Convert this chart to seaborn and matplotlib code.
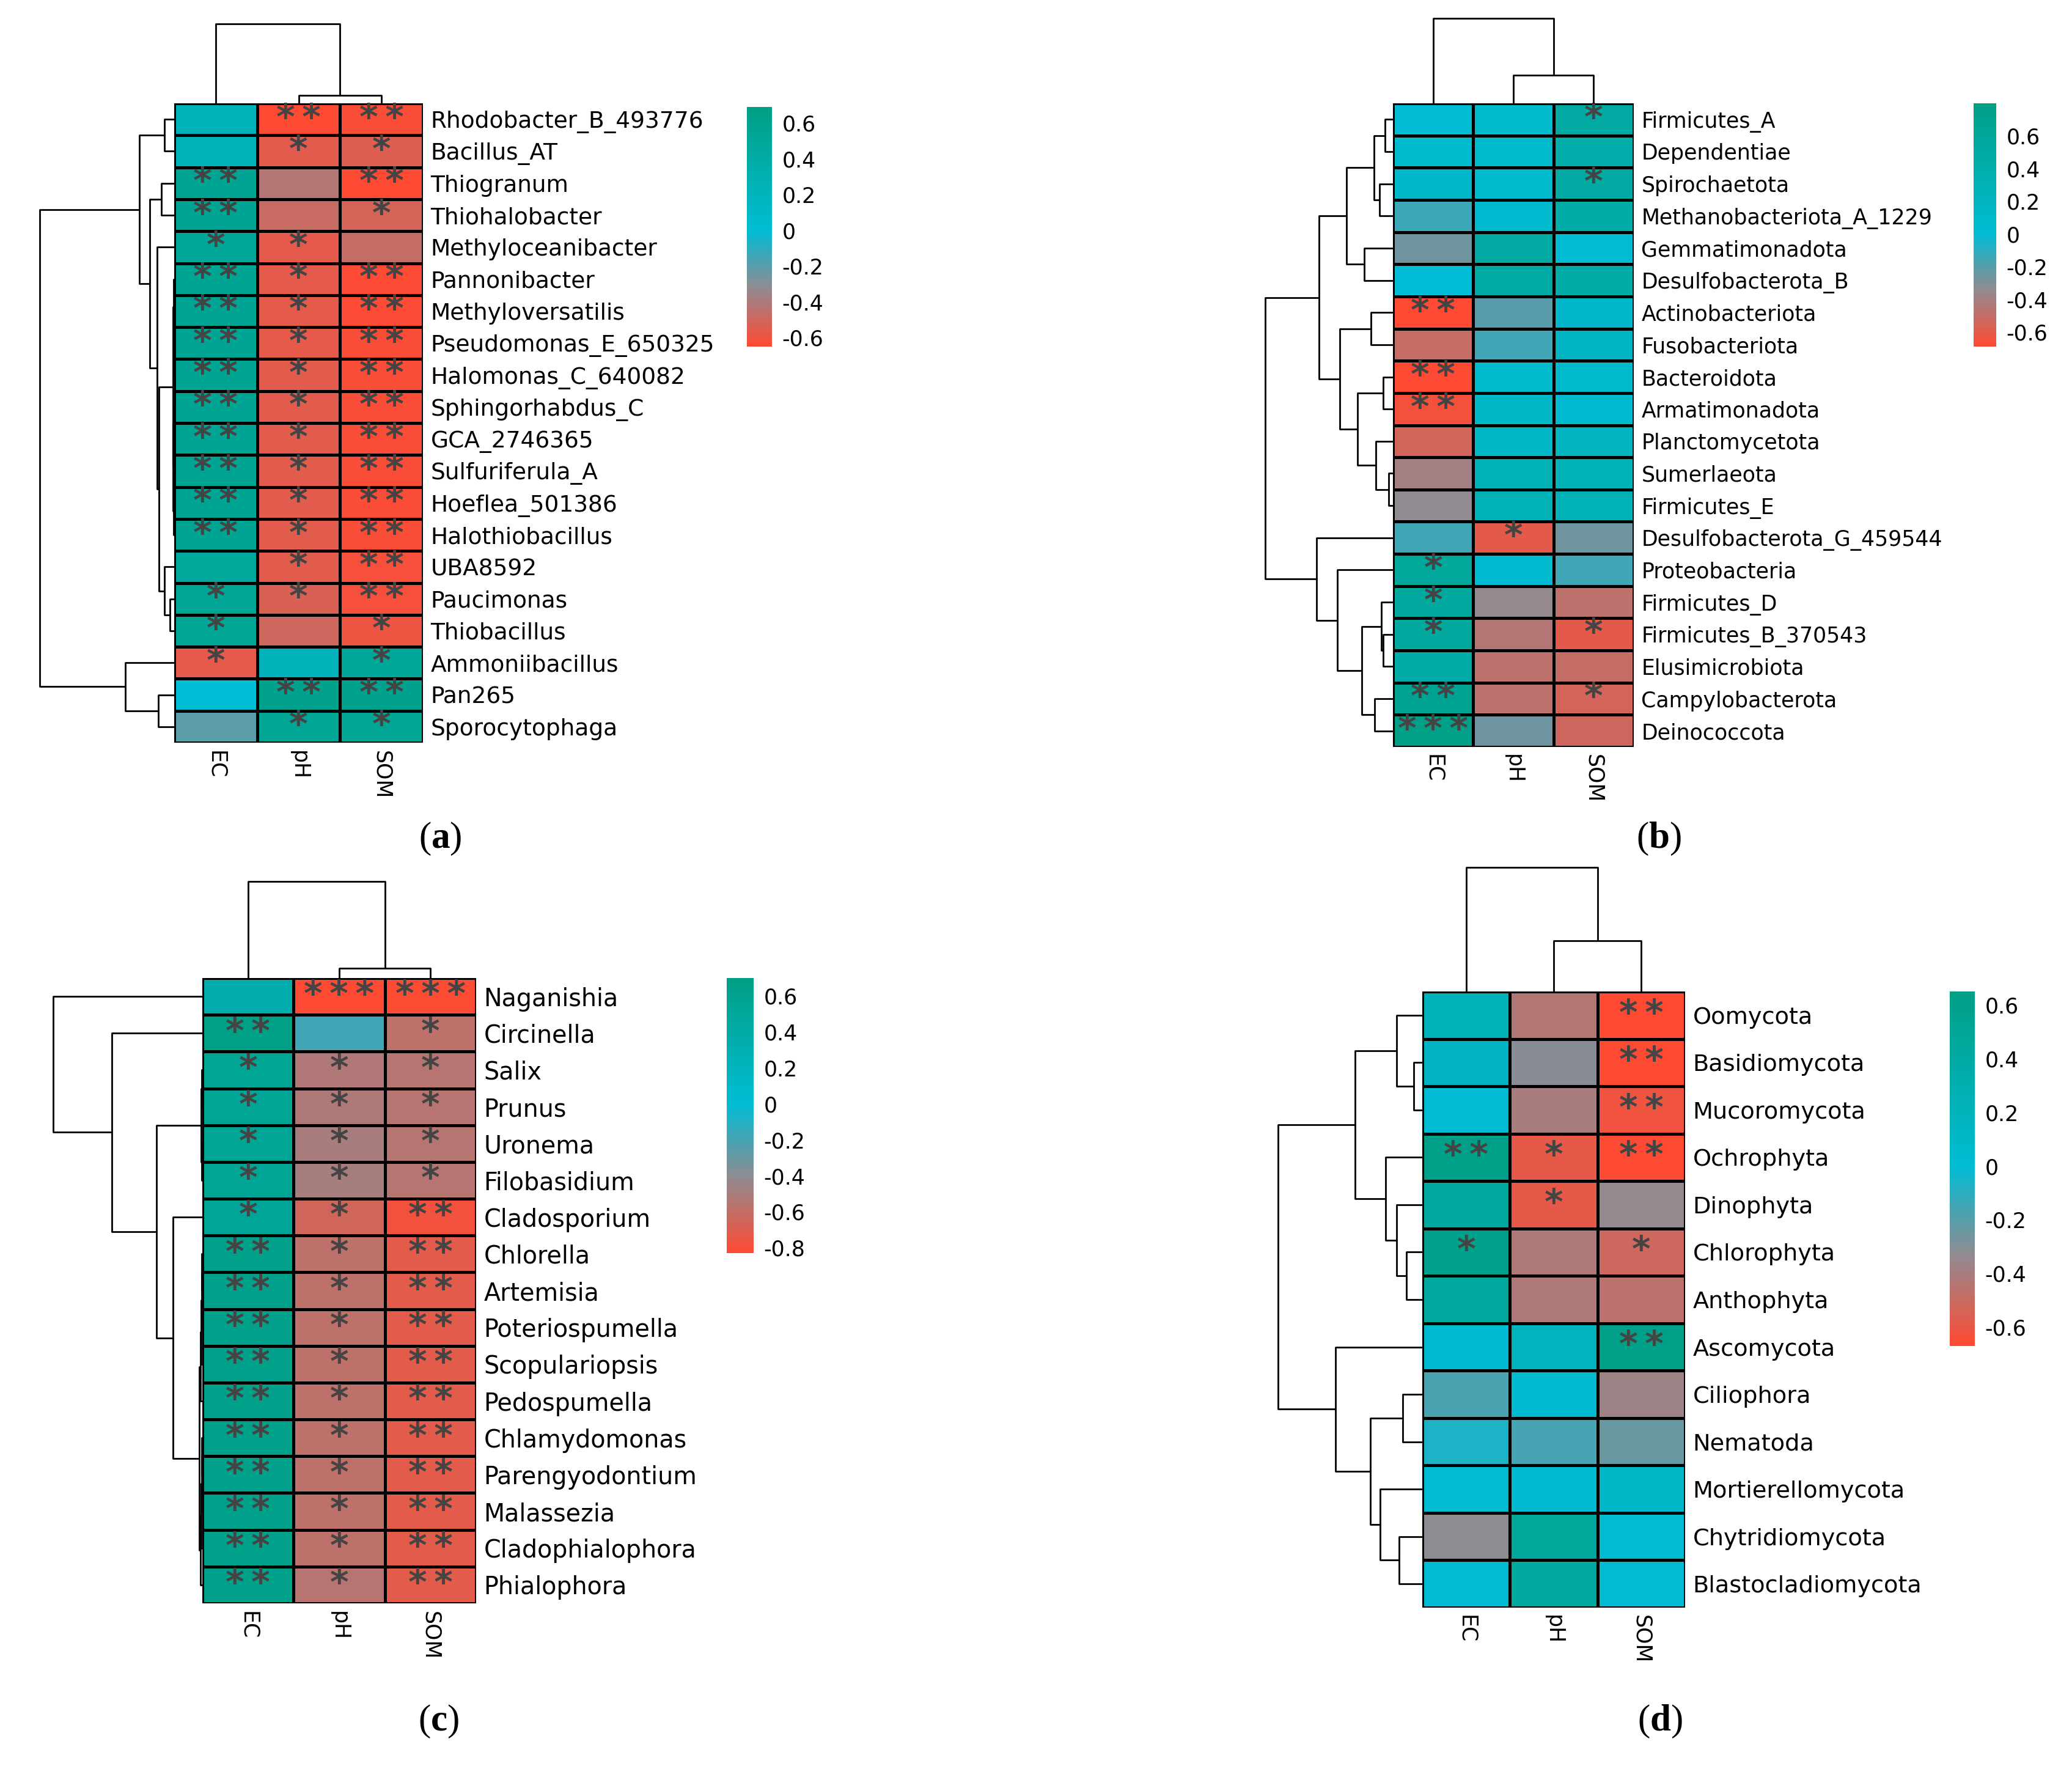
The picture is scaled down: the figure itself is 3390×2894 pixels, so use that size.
import numpy as np
import pandas as pd
import matplotlib
matplotlib.use("Agg")
import matplotlib.pyplot as plt
import seaborn as sns
from matplotlib.colors import LinearSegmentedColormap

plt.rcParams["font.family"] = "DejaVu Sans"
plt.rcParams["axes.unicode_minus"] = False
plt.rcParams["mathtext.fontset"] = "custom"
plt.rcParams["mathtext.rm"] = "Liberation Serif"
plt.rcParams["mathtext.bf"] = "Liberation Serif:bold"

# ---- data --------------------------------------------------------------
cols = ["EC", "pH", "SOM"]

# (a)
a_rows = ["Rhodobacter_B_493776", "Bacillus_AT", "Thiogranum", "Thiohalobacter",
          "Methyloceanibacter", "Pannonibacter", "Methyloversatilis",
          "Pseudomonas_E_650325", "Halomonas_C_640082", "Sphingorhabdus_C",
          "GCA_2746365", "Sulfuriferula_A", "Hoeflea_501386", "Halothiobacillus",
          "UBA8592", "Paucimonas", "Thiobacillus", "Ammoniibacillus", "Pan265",
          "Sporocytophaga"]
a_ec = [0.23, 0.23, 0.58, 0.58, 0.52, 0.58, 0.58, 0.58, 0.58, 0.58, 0.58, 0.58,
        0.58, 0.58, 0.5, 0.55, 0.55, -0.57, 0.0, -0.2]
a_ph = [-0.65, -0.56, -0.42, -0.48, -0.57, -0.57, -0.57, -0.57, -0.56, -0.56,
        -0.56, -0.56, -0.56, -0.56, -0.56, -0.53, -0.5, 0.23, 0.62, 0.55]
a_som = [-0.63, -0.55, -0.65, -0.52, -0.47, -0.64, -0.64, -0.63, -0.63, -0.63,
         -0.63, -0.63, -0.63, -0.63, -0.62, -0.62, -0.6, 0.52, 0.62, 0.55]
a_sig_ec = [0, 0, 2, 2, 1, 2, 2, 2, 2, 2, 2, 2, 2, 2, 0, 1, 1, 1, 0, 0]
a_sig_ph = [2, 1, 0, 0, 1, 1, 1, 1, 1, 1, 1, 1, 1, 1, 1, 1, 0, 0, 2, 1]
a_sig_som = [2, 1, 2, 1, 0, 2, 2, 2, 2, 2, 2, 2, 2, 2, 2, 2, 1, 1, 2, 1]
# trees: leaf = row index, node = (height, left, right)
a_same = (0.01, (0.006, 5, (0.004, 6, (0.002, 7, 8))),
          (0.008, (0.003, 9, 10), (0.005, (0.002, 11, 12), 13)))
a_row_tree = (1.0,
              (0.26, (0.072, 0, 1),
               (0.18, (0.096, 2, 3),
                (0.128, 4, (0.113, a_same, (0.072, 14, (0.03, 15, 16)))))),
              (0.365, 17, (0.12, 18, 19)))
a_col_tree = (1.0, 0, (0.1, 1, 2))

# (b)
b_rows = ["Firmicutes_A", "Dependentiae", "Spirochaetota", "Methanobacteriota_A_1229",
          "Gemmatimonadota", "Desulfobacterota_B", "Actinobacteriota", "Fusobacteriota",
          "Bacteroidota", "Armatimonadota", "Planctomycetota", "Sumerlaeota",
          "Firmicutes_E", "Desulfobacterota_G_459544", "Proteobacteria", "Firmicutes_D",
          "Firmicutes_B_370543", "Elusimicrobiota", "Campylobacterota", "Deinococcota"]
b_ec = [0.03, 0.06, 0.1, -0.14, -0.26, 0.0, -0.69, -0.5, -0.69, -0.655, -0.54, -0.39,
        -0.34, -0.15, 0.58, 0.55, 0.55, 0.45, 0.68, 0.78]
b_ph = [0.06, 0.08, 0.08, 0.04, 0.5, 0.48, -0.21, -0.15, 0.06, 0.12, 0.12, 0.3, 0.28,
        -0.6, 0.05, -0.35, -0.45, -0.48, -0.48, -0.26]
b_som = [0.5, 0.42, 0.5, 0.45, 0.03, 0.45, 0.1, 0.18, 0.08, 0.05, 0.2, 0.3, 0.3,
         -0.26, -0.15, -0.48, -0.6, -0.5, -0.55, -0.53]
b_sig_ec = [0, 0, 0, 0, 0, 0, 2, 0, 2, 2, 0, 0, 0, 0, 1, 1, 1, 0, 2, 3]
b_sig_ph = [0, 0, 0, 0, 0, 0, 0, 0, 0, 0, 0, 0, 0, 1, 0, 0, 0, 0, 0, 0]
b_sig_som = [1, 0, 1, 0, 0, 0, 0, 0, 0, 0, 0, 0, 0, 0, 0, 0, 1, 0, 1, 0]
b_row_tree = (1.0,
              (0.577,
               (0.363, (0.15, (0.064, 0, 1), (0.106, 2, 3)), (0.226, 4, 5)),
               (0.418, (0.172, 6, 7),
                (0.278, (0.075, 8, 9), (0.134, 10, (0.033, 11, 12))))),
              (0.6, 13, (0.437, 14, (0.246, (0.09, 15, (0.075, 16, 17)),
                                      (0.145, 18, 19)))))
b_col_tree = (1.0, 0, (0.33, 1, 2))

# (c)
c_rows = ["Naganishia", "Circinella", "Salix", "Prunus", "Uronema", "Filobasidium",
          "Cladosporium", "Chlorella", "Artemisia", "Poteriospumella", "Scopulariopsis",
          "Pedospumella", "Chlamydomonas", "Parengyodontium", "Malassezia",
          "Cladophialophora", "Phialophora"]
c_ec = [0.35, 0.68, 0.56, 0.56, 0.56, 0.56, 0.54, 0.65, 0.65, 0.65, 0.65, 0.65, 0.65,
        0.65, 0.65, 0.65, 0.65]
c_ph = [-0.83, -0.18, -0.53, -0.52, -0.5, -0.49, -0.65, -0.58, -0.58, -0.58, -0.58,
        -0.58, -0.58, -0.58, -0.58, -0.58, -0.56]
c_som = [-0.82, -0.58, -0.56, -0.56, -0.55, -0.55, -0.78, -0.72, -0.72, -0.72, -0.72,
         -0.72, -0.72, -0.72, -0.72, -0.72, -0.72]
c_sig_ec = [0, 2, 1, 1, 1, 1, 1, 2, 2, 2, 2, 2, 2, 2, 2, 2, 2]
c_sig_ph = [3, 0, 1, 1, 1, 1, 1, 1, 1, 1, 1, 1, 1, 1, 1, 1, 1]
c_sig_som = [3, 1, 1, 1, 1, 1, 2, 2, 2, 2, 2, 2, 2, 2, 2, 2, 2]
c_same_a = (0.008, (0.004, 2, 3), (0.006, 4, 5))
c_same_b = (0.022,
            (0.012, (0.009, (0.006, (0.003, 7, 8), 9), 10), 11),
            (0.012, (0.009, (0.006, (0.003, 12, 13), 14), 15), 16))
c_row_tree = (1.0, 0, (0.608, 1, (0.308, c_same_a, (0.198, 6, c_same_b))))
c_col_tree = (1.0, 0, (0.1, 1, 2))

# (d)
d_rows = ["Oomycota", "Basidiomycota", "Mucoromycota", "Ochrophyta", "Dinophyta",
          "Chlorophyta", "Anthophyta", "Ascomycota", "Ciliophora", "Nematoda",
          "Mortierellomycota", "Chytridiomycota", "Blastocladiomycota"]
d_ec = [0.24, 0.15, 0.02, 0.62, 0.45, 0.6, 0.45, 0.04, -0.17, -0.07, 0.02, -0.32, 0.02]
d_ph = [-0.43, -0.31, -0.4, -0.59, -0.59, -0.42, -0.42, 0.2, 0.03, -0.16, 0.03, 0.47, 0.45]
d_som = [-0.67, -0.67, -0.62, -0.67, -0.34, -0.52, -0.46, 0.62, -0.37, -0.24, 0.1, 0.02, 0.02]
d_sig_ec = [0, 0, 0, 2, 0, 1, 0, 0, 0, 0, 0, 0, 0]
d_sig_ph = [0, 0, 0, 1, 1, 0, 0, 0, 0, 0, 0, 0, 0]
d_sig_som = [2, 2, 2, 2, 0, 1, 0, 2, 0, 0, 0, 0, 0]
d_row_tree = (1.0,
              (0.467, (0.18, 0, (0.06, 1, 2)), (0.255, 3, (0.18, 4, (0.11, 5, 6)))),
              (0.6, 7, (0.36, (0.137, 8, 9), (0.294, 10, (0.16, 11, 12)))))
d_col_tree = (1.0, 0, (0.41, 1, 2))

# ---- drawing ---------------------------------------------------------------
W, H = 3391, 2894
fig = plt.figure(figsize=(W / 100, H / 100), dpi=100)
fig.patch.set_facecolor("white")

RED, GREY, CYAN, GREEN = "#FF4A33", "#928A90", "#00BCD4", "#009F85"


def box(x0, y0, x1, y1):
    return fig.add_axes([x0 / W, 1 - y1 / H, (x1 - x0) / W, (y1 - y0) / H])


def make_cmap(vmin, vmax):
    p = -vmin / (vmax - vmin)
    return LinearSegmentedColormap.from_list(
        "rgcg", [(0, RED), (p * 0.5, GREY), (p, CYAN), (1, GREEN)], N=256)


def walk(node, segs):
    if isinstance(node, int):
        return node + 0.5, 0.0
    h, left, right = node
    pl, hl = walk(left, segs)
    pr, hr = walk(right, segs)
    segs.append(([hl, h, h, hr], [pl, pl, pr, pr]))
    return (pl + pr) / 2, h


def star(k):
    return "\u2009".join(["*"] * k)


def draw_panel(rows, ec, ph, som, sig_ec, sig_ph, sig_som, row_tree, col_tree,
               vlim, ticks, g, label, fs):
    df = pd.DataFrame({"EC": ec, "pH": ph, "SOM": som}, index=rows)
    stars = pd.DataFrame({"EC": [star(k) for k in sig_ec],
                          "pH": [star(k) for k in sig_ph],
                          "SOM": [star(k) for k in sig_som]}, index=rows)
    hx0, hy0, hx1, hy1 = g["heat"]
    ax = box(hx0, hy0, hx1, hy1)
    cax = box(*g["cbar"])
    sns.heatmap(df, ax=ax, cbar_ax=cax, cmap=make_cmap(*vlim), vmin=vlim[0],
                vmax=vlim[1], linewidths=2.4, linecolor="black",
                annot=stars.values, fmt="",
                annot_kws={"fontsize": 42, "color": "#444444",
                           "fontweight": "bold"})
    for t in ax.texts:
        t.set_y(t.get_position()[1] - 0.02)
    ax.yaxis.tick_right()
    ax.set_yticks(np.arange(len(rows)) + 0.5)
    ax.set_yticklabels(rows, rotation=0, fontsize=fs, ha="left")
    ax.set_xticks(np.arange(3) + 0.5)
    ax.set_xticklabels(cols, rotation=270, fontsize=25, va="top", ha="center")
    ax.tick_params(length=0, pad=9)
    ax.set_xlabel("")
    ax.set_ylabel("")

    cb = ax.collections[0].colorbar
    cb.outline.set_visible(False)
    cb.set_ticks(ticks)
    cb.set_ticklabels([f"{t:g}" for t in ticks])
    cb.ax.tick_params(length=0, labelsize=25, pad=12)

    # row dendrogram
    rax = box(g["rowx"], hy0, hx0, hy1)
    segs = []
    walk(row_tree, segs)
    for hs, ps in segs:
        rax.plot(hs, ps, color="black", lw=2.0, clip_on=False,
                 solid_capstyle="butt")
    rax.set_xlim(1.0, 0.0)
    rax.set_ylim(len(rows), 0)
    rax.axis("off")

    # column dendrogram
    tax = box(hx0, g["coly"], hx1, hy0)
    segs = []
    walk(col_tree, segs)
    for hs, ps in segs:
        tax.plot(ps, hs, color="black", lw=2.0, clip_on=False,
                 solid_capstyle="butt")
    tax.set_xlim(0, 3)
    tax.set_ylim(0, 1.0)
    tax.axis("off")

    fig.text(g["lab"][0] / W, 1 - g["lab"][1] / H, rf"($\mathbf{{{label}}}$)",
             family="Liberation Serif", fontsize=44, ha="center", va="center")


draw_panel(a_rows, a_ec, a_ph, a_som, a_sig_ec, a_sig_ph, a_sig_som,
           a_row_tree, a_col_tree, (-0.65, 0.69),
           [-0.6, -0.4, -0.2, 0, 0.2, 0.4, 0.6],
           {"heat": (285, 169, 692, 1215), "rowx": 65, "coly": 39,
            "cbar": (1222, 175, 1263, 567), "lab": (720, 1372)}, "a", 27)
draw_panel(b_rows, b_ec, b_ph, b_som, b_sig_ec, b_sig_ph, b_sig_som,
           b_row_tree, b_col_tree, (-0.69, 0.80),
           [-0.6, -0.4, -0.2, 0, 0.2, 0.4, 0.6],
           {"heat": (2279, 169, 2673, 1222), "rowx": 2070, "coly": 30,
            "cbar": (3229, 169, 3266, 567), "lab": (2714, 1372)}, "b", 25)
draw_panel(c_rows, c_ec, c_ph, c_som, c_sig_ec, c_sig_ph, c_sig_som,
           c_row_tree, c_col_tree, (-0.83, 0.70),
           [-0.8, -0.6, -0.4, -0.2, 0, 0.2, 0.4, 0.6],
           {"heat": (331, 1600, 779, 2623), "rowx": 87, "coly": 1442,
            "cbar": (1189, 1600, 1233, 2050), "lab": (718, 2816)}, "c", 28.5)
draw_panel(d_rows, d_ec, d_ph, d_som, d_sig_ec, d_sig_ph, d_sig_som,
           d_row_tree, d_col_tree, (-0.67, 0.65),
           [-0.6, -0.4, -0.2, 0, 0.2, 0.4, 0.6],
           {"heat": (2327, 1622, 2757, 2630), "rowx": 2091, "coly": 1419,
            "cbar": (3190, 1622, 3231, 2202), "lab": (2716, 2816)}, "d", 27.5)

fig.savefig("out.png", dpi=100, facecolor="white")
